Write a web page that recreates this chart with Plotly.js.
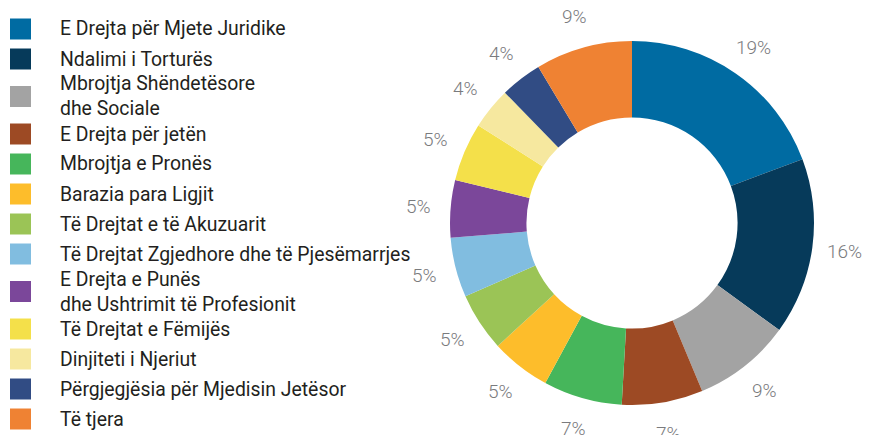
<!DOCTYPE html>
<html>
<head>
<meta charset="utf-8">
<script src="https://cdn.plot.ly/plotly-3.0.1.min.js"></script>
<style>html,body{margin:0;padding:0;background:#fff;}#chart{width:869px;height:435px;}</style>
</head>
<body>
<div id="chart"></div>
<script>
const categories = [
  "E Drejta për Mjete Juridike",
  "Ndalimi i Torturës",
  "Mbrojtja Shëndetësore<br>dhe Sociale",
  "E Drejta për jetën",
  "Mbrojtja e Pronës",
  "Barazia para Ligjit",
  "Të Drejtat e të Akuzuarit",
  "Të Drejtat Zgjedhore dhe të Pjesëmarrjes",
  "E Drejta e Punës<br>dhe Ushtrimit të Profesionit",
  "Të Drejtat e Fëmijës",
  "Dinjiteti i Njeriut",
  "Përgjegjësia për Mjedisin Jetësor",
  "Të tjera"
];
const shares = [19.3, 15.7, 8.7, 7.2, 7.0, 5.3, 5.2, 5.3, 5.1, 5.2, 3.7, 3.7, 8.6];
const colors = ["#006ba2", "#063a5a", "#a3a3a3", "#9d4a24", "#46b65b", "#fdbd2b",
  "#9bc456", "#81bde0", "#7b479a", "#f4e04a", "#f6e89f", "#314c84", "#ef8233"];

const W = 869, H = 435;
const CX = 632, CY = 223, R = 182, LABEL_R = 214;
const shapes = [], annotations = [];

// legend
let y = 29;
categories.forEach((c, i) => {
  const lines = c.split("<br>").length;
  const half = lines > 1 ? 22.5 : 15;
  if (i > 0) y += half;
  shapes.push({type: "rect", xref: "paper", yref: "paper",
    x0: 10 / W, x1: 31 / W, y0: 1 - (y - 10.5) / H, y1: 1 - (y + 10.5) / H,
    fillcolor: colors[i], line: {width: 0}});
  annotations.push({xref: "paper", yref: "paper", x: 58 / W, y: 1 - y / H,
    xanchor: "left", yanchor: "middle", align: "left", showarrow: false, text: c,
    font: {family: "Roboto", size: 19.4, color: "#231f20"}});
  y += half;
});

// percentage labels placed around the ring from the data
const total = shares.reduce((a, b) => a + b, 0);
let cum = 0;
shares.forEach((v) => {
  const mid = (cum + v / 2) / total;
  cum += v;
  const th = 2 * Math.PI * mid;
  const px = CX + LABEL_R * Math.sin(th);
  const py = CY - LABEL_R * Math.cos(th);
  annotations.push({xref: "paper", yref: "paper", x: px / W, y: 1 - py / H,
    xanchor: "center", yanchor: "middle", showarrow: false,
    text: Math.round(v / total * 100) + "%",
    font: {family: "Roboto", size: 19, color: "#7a7b7e", weight: 300}});
});

const trace = {
  type: "pie",
  labels: categories,
  values: shares,
  sort: false,
  direction: "clockwise",
  rotation: 0,
  hole: 0.58,
  marker: {colors: colors, line: {width: 0}},
  textinfo: "none",
  domain: {x: [(CX - R) / W, (CX + R) / W], y: [1 - (CY + R) / H, 1 - (CY - R) / H]},
  showlegend: false,
  automargin: false
};

Plotly.newPlot("chart", [trace], {
  width: W, height: H,
  margin: {l: 0, r: 0, t: 0, b: 0},
  paper_bgcolor: "#fff",
  showlegend: false,
  shapes: shapes,
  annotations: annotations
}, {displayModeBar: false, staticPlot: true});
</script>
</body>
</html>
